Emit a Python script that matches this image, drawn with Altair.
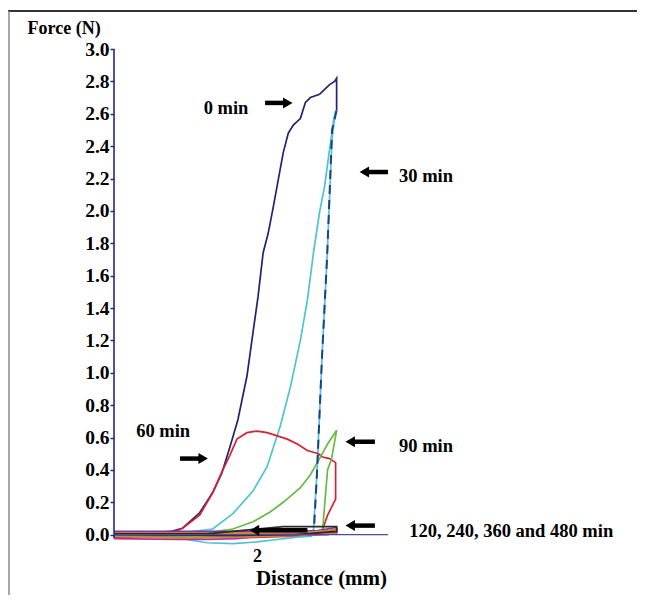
import altair as alt
import pandas as pd

# ---------------- data (Distance in mm, Force in N) ----------------
# 0 min (navy) loading branch
x_0min = [0.58, 0.80, 1.00, 1.15, 1.26, 1.43, 1.56, 1.65, 1.73, 1.81, 1.90, 1.96, 2.01, 2.06,
          2.11, 2.16, 2.21, 2.26, 2.31, 2.36, 2.43, 2.48, 2.53, 2.62, 2.72, 2.77, 2.79, 2.79]
y_0min = [0.01, 0.01, 0.015, 0.02, 0.04, 0.135, 0.26, 0.38, 0.54, 0.71, 0.98, 1.25, 1.47, 1.74,
          1.86, 2.02, 2.19, 2.36, 2.48, 2.53, 2.57, 2.67, 2.70, 2.72, 2.78, 2.80, 2.82, 2.62]
# 0 min unloading (dashed)
x_0min_drop = [2.79, 2.745, 2.695, 2.645, 2.595, 2.565]
y_0min_drop = [2.62, 2.50, 1.71, 1.10, 0.38, 0.03]

# 30 min (cyan)
x_30min = [0.58, 1.00, 1.30, 1.56, 1.76, 1.96, 2.10, 2.23, 2.33, 2.43, 2.50, 2.56, 2.62, 2.67,
           2.72, 2.76, 2.78, 2.745, 2.695, 2.645, 2.595, 2.56, 2.54, 2.40, 2.20, 2.00, 1.76,
           1.50, 1.30, 1.00, 0.58]
y_30min = [0.01, 0.01, 0.015, 0.035, 0.13, 0.27, 0.42, 0.67, 0.91, 1.20, 1.45, 1.74, 1.99, 2.15,
           2.38, 2.56, 2.62, 2.45, 1.71, 1.10, 0.38, 0.03, -0.01, -0.015, -0.03, -0.045, -0.055,
           -0.05, -0.03, -0.01, -0.005]

# 60 min (red)
x_60min = [0.58, 1.00, 1.19, 1.26, 1.43, 1.56, 1.66, 1.73, 1.80, 1.90, 2.00, 2.10, 2.20, 2.30,
           2.40, 2.50, 2.61, 2.65, 2.72, 2.78, 2.78, 2.74, 2.70, 2.66, 2.64, 2.30, 1.80, 1.20, 0.58]
y_60min = [0.015, 0.015, 0.02, 0.04, 0.12, 0.26, 0.40, 0.49, 0.59, 0.63, 0.64, 0.63, 0.61, 0.59,
           0.56, 0.52, 0.50, 0.48, 0.47, 0.445, 0.22, 0.17, 0.12, 0.05, 0.01, -0.01, -0.02, -0.01, 0.0]

# 90 min (green)
x_90min = [0.58, 1.20, 1.60, 1.76, 1.96, 2.13, 2.26, 2.43, 2.53, 2.62, 2.70, 2.79, 2.74, 2.70,
           2.68, 2.655, 2.64, 2.30, 1.80, 1.20, 0.58]
y_90min = [0.01, 0.01, 0.02, 0.035, 0.08, 0.14, 0.20, 0.29, 0.37, 0.47, 0.56, 0.645, 0.47, 0.40,
           0.25, 0.06, 0.01, 0.0, -0.01, -0.01, -0.005]

# 120 min (magenta)
x_120min = [0.58, 1.20, 1.80, 2.30, 2.60, 2.70, 2.76, 2.79, 2.79, 2.70, 2.40, 2.00, 1.80, 1.50, 1.20, 0.58]
y_120min = [0.015, 0.015, 0.01, 0.01, 0.015, 0.02, 0.03, 0.035, 0.01, 0.0, -0.005, -0.01, -0.025,
            -0.03, -0.03, -0.025]
# 240 min (purple)
x_240min = [0.58, 1.40, 2.20, 2.60, 2.75, 2.79, 2.79, 2.50, 2.00, 1.40, 0.58]
y_240min = [0.02, 0.02, 0.02, 0.025, 0.04, 0.045, 0.015, 0.005, -0.01, -0.02, -0.015]
# 360 min (orange)
x_360min = [0.58, 1.30, 2.00, 2.50, 2.70, 2.78, 2.78, 2.40, 1.80, 1.20, 0.58]
y_360min = [0.01, 0.01, 0.01, 0.015, 0.025, 0.035, 0.01, -0.005, -0.015, -0.02, -0.01]
# 480 min (black)
x_480min = [0.58, 1.50, 2.26, 2.50, 2.70, 2.79, 2.79, 2.40, 1.80, 0.58]
y_480min = [0.005, 0.005, 0.05, 0.05, 0.05, 0.05, 0.02, 0.0, -0.005, 0.0]

series_names = ["0 min", "30 min", "60 min", "90 min", "120 min", "240 min", "360 min", "480 min"]
series_colors = ["#23236e", "#4cc4d4", "#d42232", "#66bb44", "#c42a96", "#7a3aa8", "#d08a30", "#2a2a2a"]
series_x = [x_0min, x_30min, x_60min, x_90min, x_120min, x_240min, x_360min, x_480min]
series_y = [y_0min, y_30min, y_60min, y_90min, y_120min, y_240min, y_360min, y_480min]

y_ticks = [0.0, 0.2, 0.4, 0.6, 0.8, 1.0, 1.2, 1.4, 1.6, 1.8, 2.0, 2.2, 2.4, 2.6, 2.8, 3.0]
x_ticks = [2]

# annotations (data coordinates)
label_texts = ["0 min", "30 min", "60 min", "90 min", "120, 240, 360 and 480 min"]
label_x = [1.47, 3.41, 0.80, 3.41, 3.51]
label_y = [2.60, 2.18, 0.605, 0.51, -0.012]

arrow_tip_x = [2.35, 3.02, 1.51, 2.88, 2.88, 1.93]
arrow_tail_x = [2.08, 3.30, 1.235, 3.17, 3.17, 2.50]
arrow_y = [2.667, 2.24, 0.47, 0.574, 0.056, 0.027]

X_MIN, X_MAX = 0.58, 3.30
Y_MIN, Y_MAX = -0.07, 3.0
W = 274
H = 497

# ---------------- tables ----------------
rows = []
for name, xs_, ys_ in zip(series_names, series_x, series_y):
    for i, (xv, yv) in enumerate(zip(xs_, ys_)):
        rows.append({"series": name, "order": i, "x": xv, "y": yv})
curves = pd.DataFrame(rows)
drop = pd.DataFrame({"x": x_0min_drop, "y": y_0min_drop, "order": range(len(x_0min_drop))})

xs = alt.Scale(domain=[X_MIN, X_MAX], nice=False, zero=False)
ys = alt.Scale(domain=[Y_MIN, Y_MAX], nice=False, zero=False)

serif = "Liberation Serif"

AX_X = alt.Axis(values=x_ticks, format="d", domain=False, ticks=False, grid=False,
                labelFont=serif, labelFontWeight="bold", labelFontSize=18,
                labelColor="black", labelPadding=1,
                title="Distance (mm)", titleFont=serif, titleFontWeight="bold",
                titleFontSize=21, titleColor="black", titleX=207, titleY=38,
                titleAlign="center", titleBaseline="alphabetic")
AX_Y = alt.Axis(values=y_ticks, format=".1f", domain=False, ticks=True, tickSize=4,
                tickColor="#2a2a78", tickWidth=1.5, grid=False,
                labelOverlap=False, labelFlush=False,
                labelFont=serif, labelFontWeight="bold", labelFontSize=19.5,
                labelColor="black", labelPadding=1,
                title="Force (N)", titleFont=serif, titleFontWeight="bold",
                titleFontSize=18, titleColor="black", titleAngle=0,
                titleAlign="left", titleBaseline="alphabetic",
                titleX=-87, titleY=-16)


def X(field):
    return alt.X(field, scale=xs, axis=AX_X)


def Y(field):
    return alt.Y(field, scale=ys, axis=AX_Y)


curve_layer = alt.Chart(curves).mark_line(strokeWidth=1.7, clip=False).encode(
    x=X("x:Q"), y=Y("y:Q"),
    color=alt.Color("series:N", scale=alt.Scale(domain=series_names, range=series_colors),
                    legend=None),
    detail="series:N",
    order="order:Q",
)

drop_layer = alt.Chart(drop).mark_line(strokeWidth=2, strokeDash=[9, 6], color="#1e3f8c").encode(
    x=X("x:Q"), y=Y("y:Q"), order="order:Q")

axes_df = pd.DataFrame({"x": [X_MIN], "x2": [X_MAX], "y": [0.0], "ytop": [Y_MAX], "ybot": [-0.02]})
y_axis_line = alt.Chart(axes_df).mark_rule(color="#2a2a78", strokeWidth=1.6).encode(
    x=X("x:Q"), y=Y("ybot:Q"), y2="ytop:Q")
x_axis_line = alt.Chart(axes_df).mark_rule(color="#4a4aa0", strokeWidth=1.4).encode(
    x=X("x:Q"), x2="x2:Q", y=Y("y:Q"))

labels_df = pd.DataFrame({"text": label_texts, "x": label_x, "y": label_y})
label_layer = alt.Chart(labels_df).mark_text(
    font=serif, fontWeight="bold", fontSize=18.5, align="left", baseline="alphabetic",
    color="black", clip=False).encode(
    x=X("x:Q"), y=Y("y:Q"), text="text:N")

# arrows: shaft + head
arr_rows = []
for tip, tail, yv in zip(arrow_tip_x, arrow_tail_x, arrow_y):
    d = 1 if tail > tip else -1
    head_c = tip + d * 0.045
    arr_rows.append({"xa": head_c, "xb": tail, "y": yv,
                     "shape": "triangle-left" if d == 1 else "triangle-right"})
arr_df = pd.DataFrame(arr_rows)
shaft = alt.Chart(arr_df).mark_rule(color="black", strokeWidth=4.5).encode(
    x=X("xa:Q"), x2="xb:Q", y=Y("y:Q"))
head = alt.Chart(arr_df).mark_point(filled=True, color="black", size=120, opacity=1).encode(
    x=X("xa:Q"), y=Y("y:Q"),
    shape=alt.Shape("shape:N", scale=None))

# figure frame (top and left border of the original figure)
frame_top = alt.Chart(axes_df).mark_rule(color="#333333", strokeWidth=2).encode(
    x=alt.value(-106), x2=alt.value(W + 260), y=alt.value(-38))
frame_left = alt.Chart(axes_df).mark_rule(color="#8a8a8a", strokeWidth=1.5).encode(
    x=alt.value(-105), y=alt.value(-38), y2=alt.value(H + 60))

chart = alt.layer(
    curve_layer, frame_top, frame_left,
    drop_layer, x_axis_line, y_axis_line,
    shaft, head, label_layer,
).properties(
    width=W, height=H,
    background="white",
    autosize=alt.AutoSizeParams(type="none"),
    padding={"left": 106, "top": 41, "right": 249, "bottom": 49},
).configure_view(stroke=None, strokeWidth=0)

chart.save("out.html", embed_options={"renderer": "svg", "actions": False})
